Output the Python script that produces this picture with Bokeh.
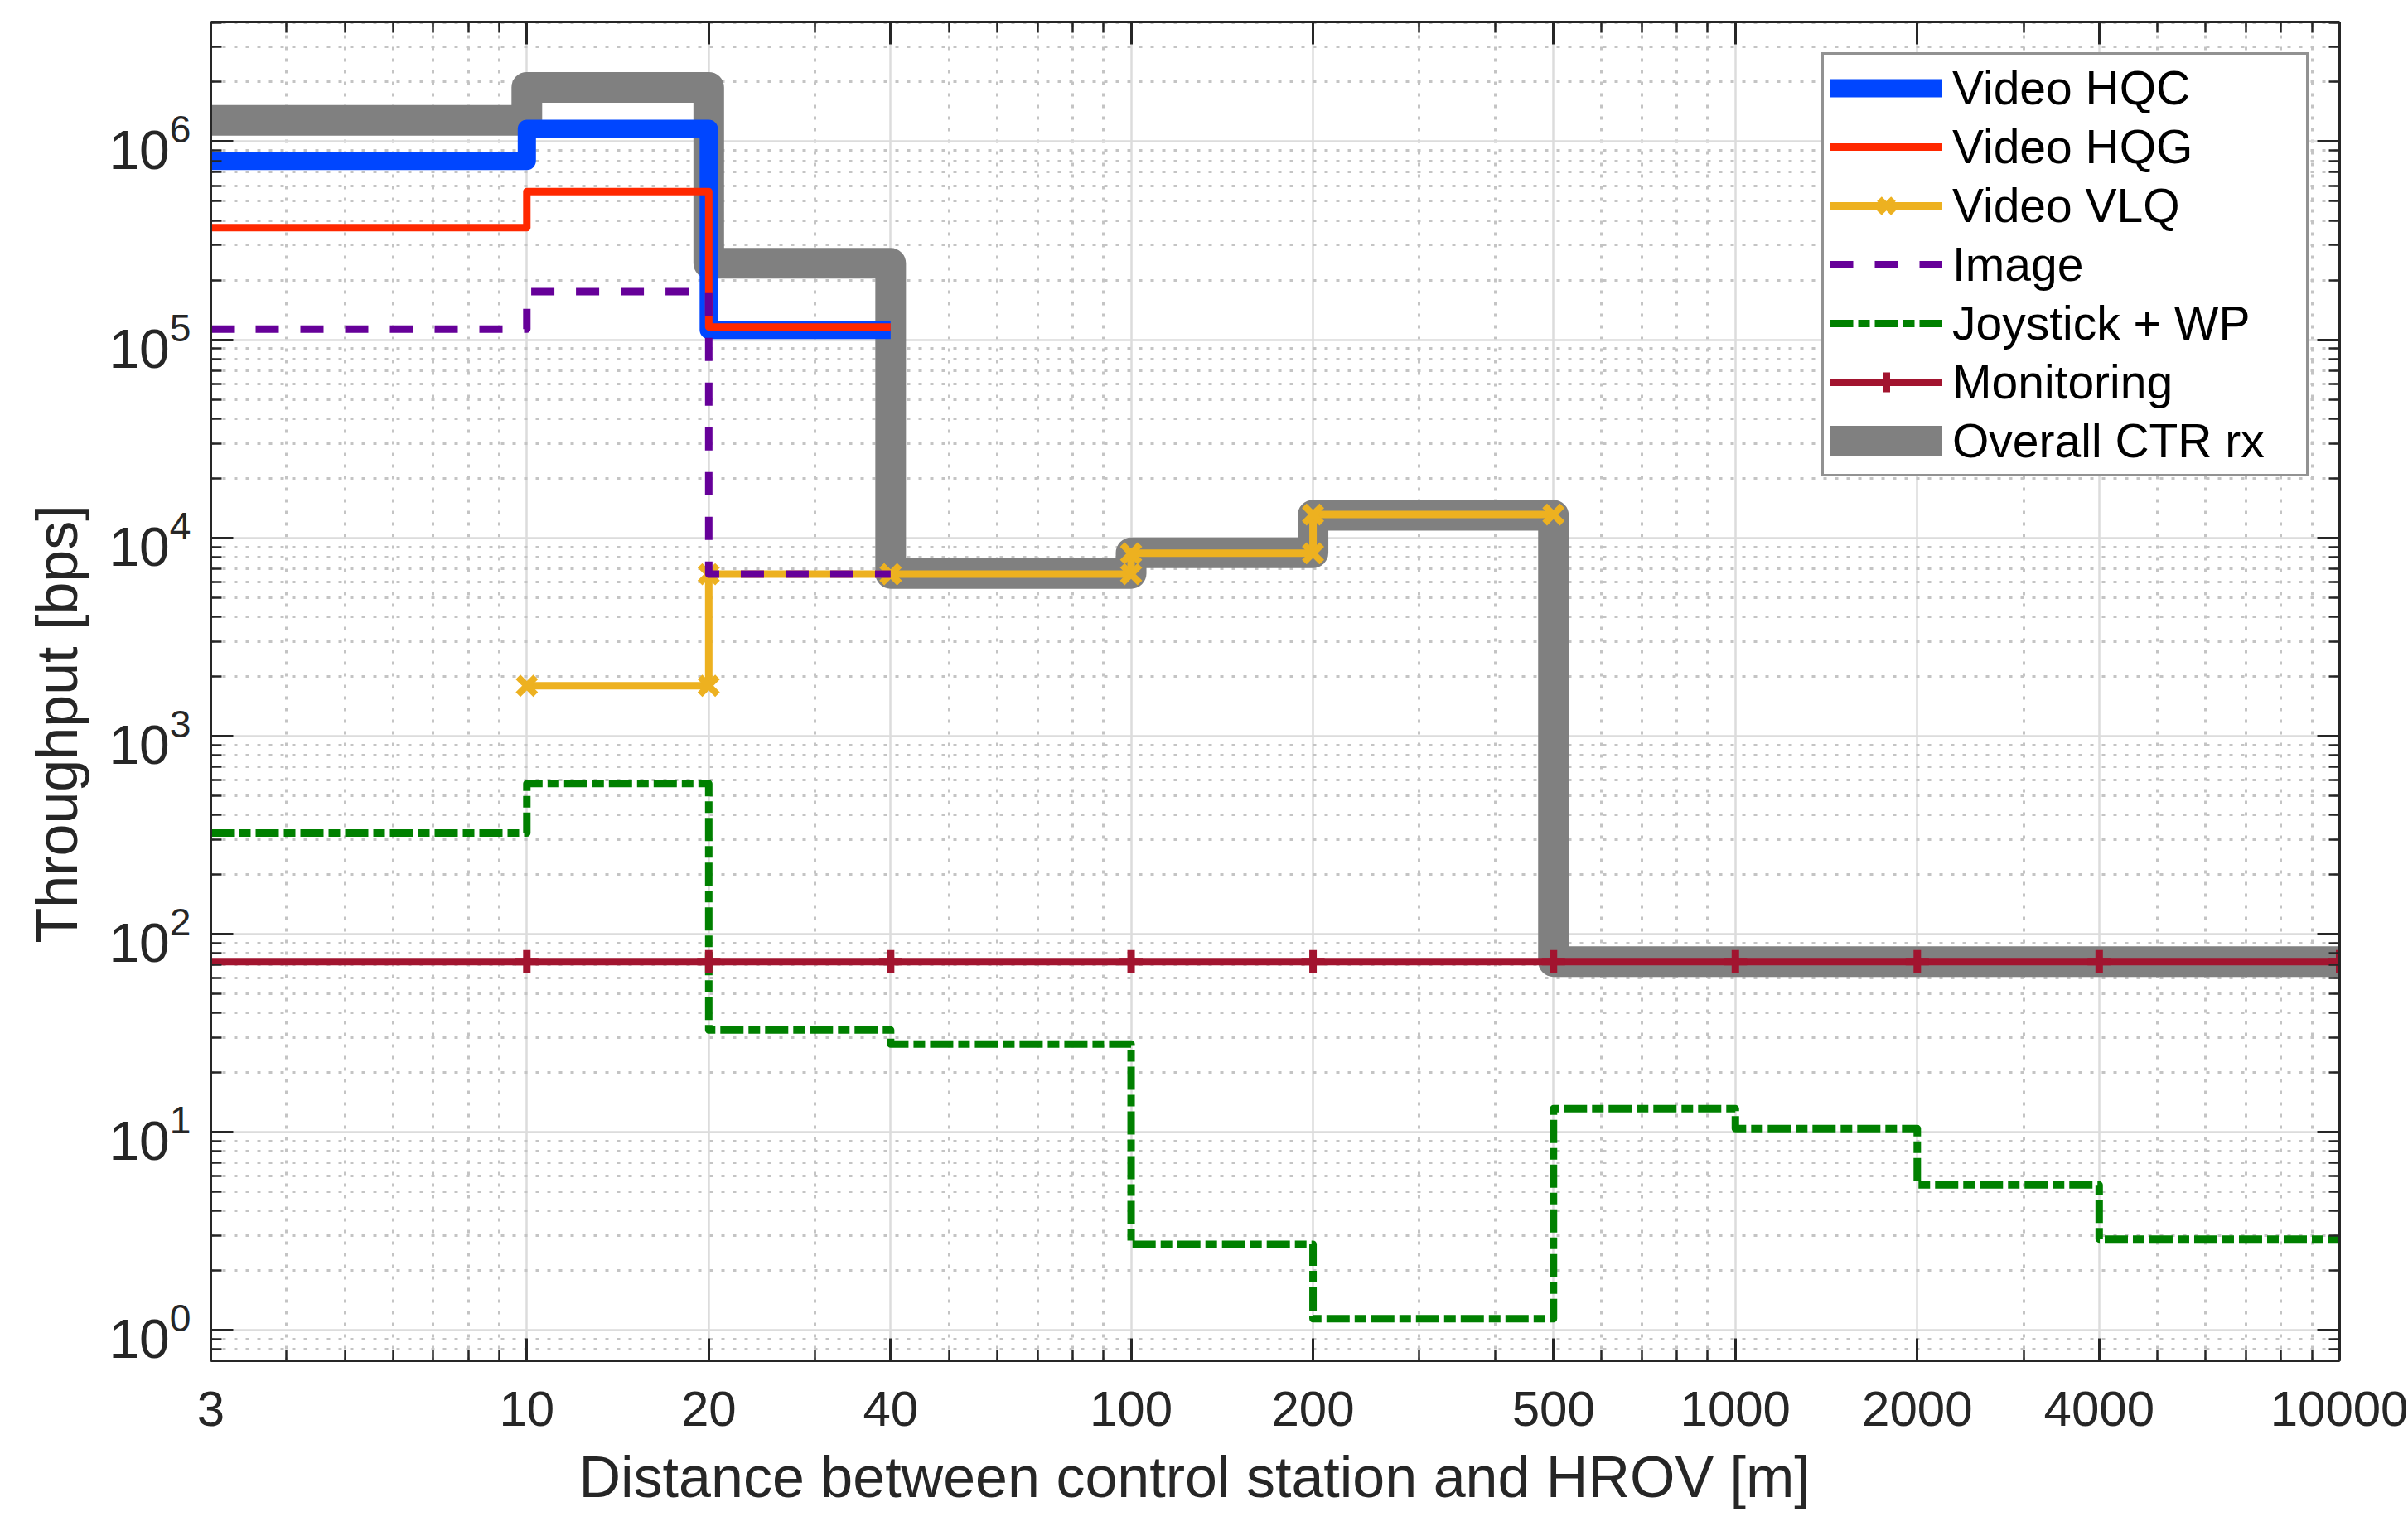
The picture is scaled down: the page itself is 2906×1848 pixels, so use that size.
from bokeh.plotting import figure
from bokeh.models import (FixedTicker, NumeralTickFormatter, LogAxis, CustomJSTickFormatter,
                          Legend, LegendItem, Title)
from bokeh.embed import file_html
from bokeh.resources import INLINE

# ---------------- data ----------------
distance_edges = [3, 10, 20, 40, 100, 200, 500, 1000, 2000, 4000, 10000]

hqc_edges = [3, 10, 20, 40]
hqc_values = [8.0e5, 1.16e6, 1.12e5]

hqg_edges = [3, 10, 20, 40]
hqg_values = [3.68e5, 5.6e5, 1.16e5]

vlq_edges = [10, 20, 40, 100, 200, 500]
vlq_values = [1.79e3, 6.55e3, 6.55e3, 8.35e3, 1.31e4]

image_edges = [3, 10, 20, 40]
image_values = [1.13e5, 1.75e5, 6.55e3]

joystick_values = [323, 574, 32.7, 27.8, 2.71, 1.14, 13.1, 10.4, 5.4, 2.88]
monitoring_values = [72.5, 72.5, 72.5, 72.5, 72.5, 72.5, 72.5, 72.5, 72.5, 72.5]
overall_values = [1.28e6, 1.88e6, 2.43e5, 6.6e3, 8.4e3, 1.3e4, 72.5, 72.5, 72.5, 72.5]

x_tick_values = [3, 10, 20, 40, 100, 200, 500, 1000, 2000, 4000, 10000]
x_minor_ticks = [4, 5, 6, 7, 8, 9, 30, 50, 60, 70, 80, 90, 300, 400, 600, 700, 800, 900,
                 3000, 5000, 6000, 7000, 8000, 9000]
y_tick_values = [1, 10, 100, 1e3, 1e4, 1e5, 1e6]
y_minor_ticks = [0.7, 0.8, 0.9] + [m * 10 ** k for k in range(6) for m in range(2, 10)] + [2e6, 3e6, 4e6]

x_label = "Distance between control station and HROV [m]"
y_label = "Throughput [bps]"


def stairs(edges, values):
    xs, ys = [], []
    for i, v in enumerate(values):
        xs += [edges[i], edges[i + 1]]
        ys += [v, v]
    return xs, ys


FONT = "Liberation Sans"
AX = "#262626"

p = figure(width=2906, height=1848, x_axis_type="log", y_axis_type="log",
           x_range=(3, 10000), y_range=(0.70, 4.02e6),
           output_backend="svg", toolbar_location=None,
           min_border_left=254, min_border_right=83, min_border_top=26, min_border_bottom=206)
p.outline_line_color = None
p.background_fill_color = "white"
p.border_fill_color = "white"

xt = FixedTicker(ticks=x_tick_values, minor_ticks=x_minor_ticks)
yt = FixedTicker(ticks=y_tick_values, minor_ticks=y_minor_ticks)


def style_axis(ax, label_size="60px", standoff=28):
    ax.axis_line_color = AX
    ax.axis_line_width = 3
    ax.major_tick_line_color = AX
    ax.major_tick_line_width = 3
    ax.major_tick_in = 27
    ax.major_tick_out = 0
    ax.minor_tick_line_color = AX
    ax.minor_tick_line_width = 2.5
    ax.minor_tick_in = 13
    ax.minor_tick_out = 0
    ax.major_label_text_font = FONT
    ax.major_label_text_font_size = label_size
    ax.major_label_text_color = AX
    ax.major_label_standoff = standoff


xa = p.xaxis[0]
xa.ticker = xt
xa.formatter = NumeralTickFormatter(format="0")
style_axis(xa, "60px", 37)

ya = p.yaxis[0]
ya.ticker = yt
style_axis(ya, "66px", 24)

top = LogAxis(ticker=xt, formatter=CustomJSTickFormatter(code="return ''"))
style_axis(top, "1px", 0)
p.add_layout(top, "above")
right = LogAxis(ticker=yt, formatter=CustomJSTickFormatter(code="return ''"))
style_axis(right, "1px", 0)
p.add_layout(right, "right")

for g, t in ((p.xgrid[0], xt), (p.ygrid[0], yt)):
    g.ticker = t
    g.grid_line_color = "#dcdcdc"
    g.grid_line_width = 2.5
    g.minor_grid_line_color = "#c4c4c4"
    g.minor_grid_line_width = 3
    g.minor_grid_line_dash = "4 10"

# ---------------- series ----------------
x, y = stairs(distance_edges, overall_values)
r_overall = p.line(x, y, line_color="#808080", line_width=37, line_join="round")

x, y = stairs(hqc_edges, hqc_values)
r_hqc = p.line(x, y, line_color="#0046ff", line_width=22, line_join="round")

x, y = stairs(hqg_edges, hqg_values)
r_hqg = p.line(x, y, line_color="#ff2800", line_width=9, line_join="round")

x, y = stairs(vlq_edges, vlq_values)
r_vlq = p.line(x, y, line_color="#edb120", line_width=9, line_join="round")
r_vlq_m = p.scatter(x, y, marker="x", size=30, line_color="#edb120", line_width=8)

x, y = stairs(image_edges, image_values)
r_img = p.line(x, y, line_color="#660099", line_width=9, line_dash="28 26", line_join="round")

x, y = stairs(distance_edges, joystick_values)
r_joy = p.line(x, y, line_color="#008000", line_width=9, line_dash="28 6 14 6", line_join="round")

x, y = stairs(distance_edges, monitoring_values)
r_mon = p.line(x, y, line_color="#a2142f", line_width=9, line_join="round")
r_mon_m = p.scatter(distance_edges[1:], monitoring_values, marker="cross", size=28,
                    line_color="#a2142f", line_width=9)

legend = Legend(items=[
    LegendItem(label="Video HQC", renderers=[r_hqc]),
    LegendItem(label="Video HQG", renderers=[r_hqg]),
    LegendItem(label="Video VLQ", renderers=[r_vlq, r_vlq_m]),
    LegendItem(label="Image", renderers=[r_img]),
    LegendItem(label="Joystick + WP", renderers=[r_joy]),
    LegendItem(label="Monitoring", renderers=[r_mon, r_mon_m]),
    LegendItem(label="Overall CTR rx", renderers=[r_overall]),
], location="top_right", margin=37)
legend.border_line_color = AX
legend.border_line_width = 3
legend.background_fill_color = "white"
legend.background_fill_alpha = 1.0
legend.label_text_font = FONT
legend.label_text_font_size = "57px"
legend.label_text_color = "black"
legend.glyph_width = 136
legend.glyph_height = 60
legend.label_standoff = 12
legend.label_width = 420
legend.padding = 7
legend.spacing = 5
p.add_layout(legend)

# axis titles (offset along the axis like in the reference)
p.add_layout(Title(text=x_label, align="left", offset=444, vertical_align="bottom", standoff=36,
                   text_font=FONT, text_font_size="70px", text_font_style="normal",
                   text_color=AX), "below")
p.add_layout(Title(text=y_label, align="left", offset=504, vertical_align="bottom", standoff=42,
                   text_font=FONT, text_font_size="70px", text_font_style="normal",
                   text_color=AX), "left")

open("out.html", "w").write(file_html(p, INLINE))
